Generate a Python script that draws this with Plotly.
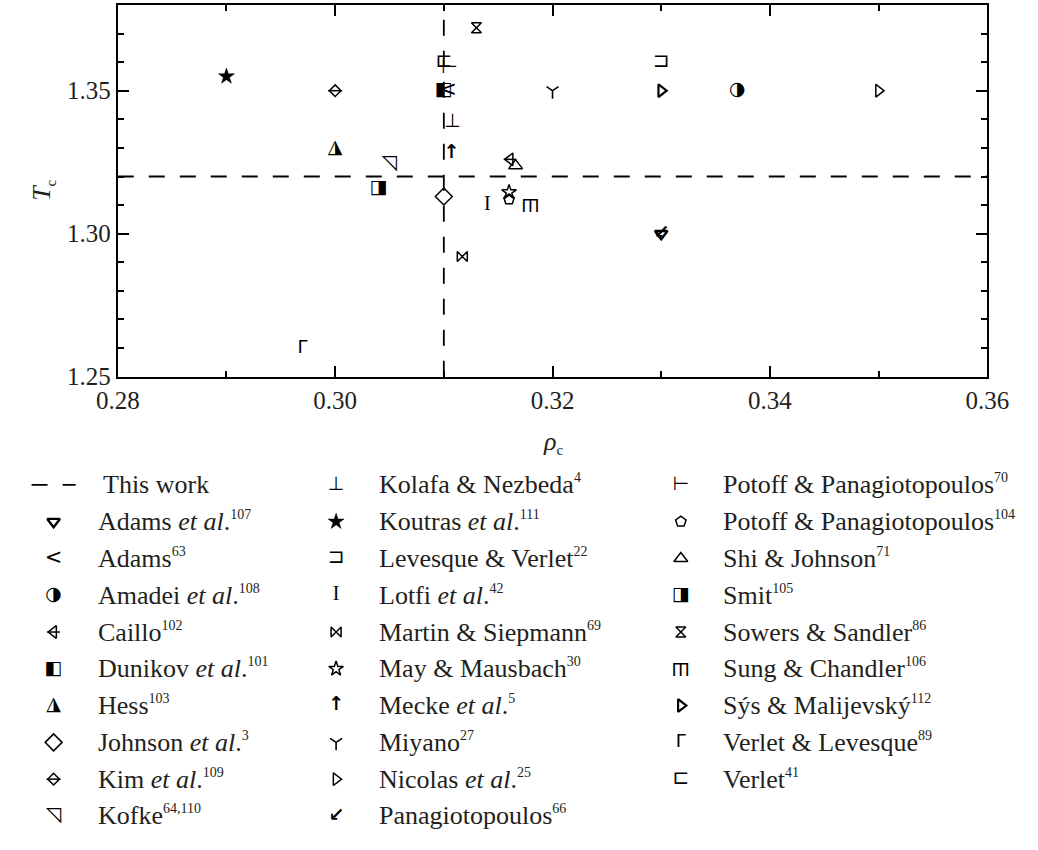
import plotly.graph_objects as go

W, H = 1038, 850

# ---- data -------------------------------------------------------------
studies = [
    "Adams et al.", "Adams", "Amadei et al.", "Caillo", "Dunikov et al.",
    "Hess", "Johnson et al.", "Kim et al.", "Kofke", "Kolafa & Nezbeda",
    "Koutras et al.", "Levesque & Verlet", "Lotfi et al.", "Martin & Siepmann",
    "May & Mausbach", "Mecke et al.", "Miyano", "Nicolas et al.",
    "Panagiotopoulos", "Potoff & Panagiotopoulos", "Potoff & Panagiotopoulos",
    "Shi & Johnson", "Smit", "Sowers & Sandler", "Sung & Chandler",
    "Sýs & Malijevský", "Verlet & Levesque", "Verlet",
]
refs = [
    "107", "63", "108", "102", "101", "103", "3", "109", "64,110", "4",
    "111", "22", "42", "69", "30", "5", "27", "25", "66", "70", "104",
    "71", "105", "86", "106", "112", "89", "41",
]
rho_c = [
    0.330, 0.3104, 0.337, 0.3161, 0.310, 0.300, 0.310, 0.300, 0.305, 0.3108,
    0.290, 0.330, 0.314, 0.3117, 0.316, 0.3107, 0.320, 0.350, 0.330, 0.3105,
    0.316, 0.3166, 0.304, 0.313, 0.318, 0.330, 0.297, 0.310,
]
T_c = [
    1.300, 1.350, 1.350, 1.326, 1.350, 1.330, 1.313, 1.350, 1.3245, 1.339,
    1.355, 1.360, 1.310, 1.292, 1.3145, 1.328, 1.350, 1.350, 1.300, 1.358,
    1.312, 1.3238, 1.316, 1.372, 1.310, 1.350, 1.260, 1.360,
]

this_work_rho = 0.310
this_work_T = 1.320

x_range = [0.28, 0.36]
y_range = [1.25, 1.38]

# ---- glyph definitions -------------------------------------------------
INK = "black"
SYM_FONT = "DejaVu Sans"
TXT_FONT = "Liberation Serif"


def M(symbol, size, lw=1.5):
    return dict(kind="marker", symbol=symbol, size=size, lw=lw)


def G(ch, size, family=SYM_FONT):
    return dict(kind="text", ch=ch, size=size, family=family)


def R(ch, size, angle):
    return dict(kind="rot", ch=ch, size=size, angle=angle)


glyphs = [
    [M("triangle-down-open", 11, 2.4)],             # Adams et al.
    [G("<", 21)],                                   # Adams
    [G("◑", 19)],                                   # Amadei
    [M("triangle-left-open", 11), M("line-ew", 9, 1.5)],  # Caillo
    [G("◧", 19)],                                   # Dunikov
    [G("◮", 19)],                                   # Hess
    [M("diamond-open", 13)],                        # Johnson
    [M("diamond-open", 9), M("line-ew", 10, 1.5)],  # Kim
    [G("◹", 20)],                                   # Kofke
    [G("⊥", 19)],                                   # Kolafa & Nezbeda
    [M("star", 12, 0.5)],                           # Koutras
    [G("⊐", 20)],                                   # Levesque & Verlet
    [G("I", 20, TXT_FONT)],                         # Lotfi
    [M("bowtie-open", 10)],                         # Martin & Siepmann
    [M("star-open", 11)],                           # May & Mausbach
    [G("<b>↑</b>", 19)],                            # Mecke
    [M("y-down-open", 10, 1.6)],                    # Miyano
    [M("triangle-right-open", 11)],                 # Nicolas
    [G("<b>↙</b>", 19)],                            # Panagiotopoulos
    [G("⊢", 19)],                                   # Potoff & Panagiotopoulos (70)
    [M("pentagon-open", 11)],                       # Potoff & Panagiotopoulos (104)
    [M("triangle-up-open", 12)],                    # Shi & Johnson
    [G("◨", 19)],                                   # Smit
    [M("hourglass-open", 10)],                      # Sowers & Sandler
    [R("Ш", 17, 180)],                              # Sung & Chandler
    [M("triangle-right-open", 11, 2.2)],            # Sýs & Malijevský
    [G("Γ", 18)],                                   # Verlet & Levesque
    [G("⊏", 20)],                                   # Verlet
]

fig = go.Figure()
annotations = []


def draw_glyph(layers, x, y, xa, ya):
    for g in layers:
        if g["kind"] == "marker":
            fig.add_trace(go.Scatter(
                x=[x], y=[y], xaxis=xa, yaxis=ya, mode="markers",
                marker=dict(symbol=g["symbol"], size=g["size"], color=INK,
                            line=dict(color=INK, width=g["lw"])),
                showlegend=False, cliponaxis=False, hoverinfo="skip"))
        elif g["kind"] == "text":
            fig.add_trace(go.Scatter(
                x=[x], y=[y], xaxis=xa, yaxis=ya, mode="text",
                text=[g["ch"]], textposition="middle center",
                textfont=dict(family=g["family"], size=g["size"], color=INK),
                showlegend=False, cliponaxis=False, hoverinfo="skip"))
        else:
            annotations.append(dict(
                x=x, y=y, xref=xa, yref=ya, text=g["ch"], showarrow=False,
                textangle=g["angle"], xanchor="center", yanchor="middle",
                font=dict(family=SYM_FONT, size=g["size"], color=INK)))


# ---- "this work" dashed cross-hair --------------------------------------
DASH = "16px,15px"
fig.add_trace(go.Scatter(x=x_range, y=[this_work_T, this_work_T], mode="lines",
                         line=dict(color=INK, width=1.8, dash=DASH),
                         showlegend=False, hoverinfo="skip"))
fig.add_trace(go.Scatter(x=[this_work_rho, this_work_rho], y=y_range, mode="lines",
                         line=dict(color=INK, width=1.8, dash=DASH),
                         showlegend=False, hoverinfo="skip"))

# ---- literature points ---------------------------------------------------
for layers, r, t in zip(glyphs, rho_c, T_c):
    draw_glyph(layers, r, t, "x", "y")

# ---- hand-laid legend (pixel coordinates on a full-page axis pair) -------
row0, row_step = 493, 37.4
col_sym = [33, 328, 688]
col_txt = [77, 371, 730]


def label_html(name, ref):
    name = name.replace("et al.", "<i>et al</i>.")
    return f"{name}<sup><span style='font-size:14px'>{ref}</span></sup>"


entries = [None] + list(range(len(studies)))  # None -> this work
for k, idx in enumerate(entries):
    col, row = divmod(k, 10)
    yy = row0 + row * row_step
    if idx is None:
        fig.add_trace(go.Scatter(x=[10, 56], y=[yy, yy], xaxis="x2", yaxis="y2",
                                 mode="lines", line=dict(color=INK, width=1.8, dash=DASH),
                                 showlegend=False, hoverinfo="skip", cliponaxis=False))
        text = "This work"
        tx = col_txt[col] + 6
    else:
        draw_glyph(glyphs[idx], col_sym[col], yy, "x2", "y2")
        text = label_html(studies[idx], refs[idx])
        tx = col_txt[col]
    annotations.append(dict(
        x=tx, y=yy, xref="x2", yref="y2", text=text, showarrow=False,
        xanchor="left", yanchor="middle",
        font=dict(family=TXT_FONT, size=26, color="#231f20")))

# ---- axis titles ---------------------------------------------------------
annotations.append(dict(x=554, y=450, xref="x2", yref="y2",
                        text="<i>ρ</i><sub><span style='font-size:15px'>c</span></sub>",
                        showarrow=False, xanchor="center", yanchor="middle",
                        font=dict(family=TXT_FONT, size=26, color="#231f20")))
annotations.append(dict(x=22, y=194, xref="x2", yref="y2",
                        text="<i>T</i><sub><span style='font-size:15px'>c</span></sub>",
                        showarrow=False, textangle=-90, xanchor="center", yanchor="middle",
                        font=dict(family=TXT_FONT, size=26, color="#231f20")))

axis_common = dict(
    showline=True, linewidth=2, linecolor=INK, mirror="ticks",
    ticks="inside", ticklen=11, tickwidth=1.5, tickcolor=INK,
    showgrid=False, zeroline=False, tickformat=".2f",
    tickfont=dict(family=TXT_FONT, size=25, color="#231f20"),
    fixedrange=True,
)

fig.update_layout(
    width=W, height=H,
    margin=dict(l=0, r=0, t=0, b=0),
    paper_bgcolor="white", plot_bgcolor="rgba(0,0,0,0)",
    font=dict(family=TXT_FONT),
    xaxis=dict(domain=[100 / W, 1008 / W], range=x_range, dtick=0.02, tick0=0.28,
               minor=dict(dtick=0.01, ticks="inside", ticklen=6, tickwidth=1.5,
                          tickcolor=INK),
               anchor="y", **axis_common),
    yaxis=dict(domain=[1 - 383 / H, 1 - 5 / H], range=y_range, dtick=0.05, tick0=1.25,
               minor=dict(dtick=0.01, ticks="inside", ticklen=6, tickwidth=1.5,
                          tickcolor=INK),
               anchor="x", **axis_common),
    xaxis2=dict(domain=[0, 1], range=[0, W], visible=False, fixedrange=True,
                anchor="y2"),
    yaxis2=dict(domain=[0, 1], range=[H, 0], visible=False, fixedrange=True,
                anchor="x2"),
    annotations=annotations,
    showlegend=False,
)

fig.write_html("out.html")
